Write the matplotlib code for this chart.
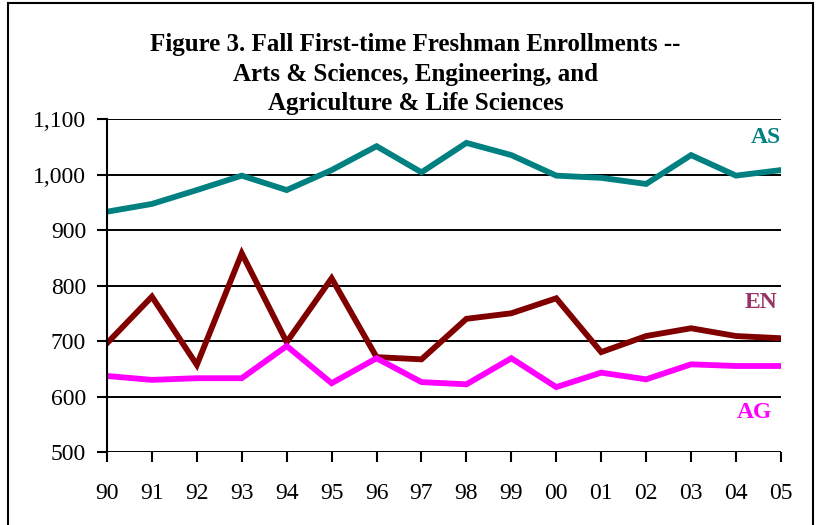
import numpy as np
import matplotlib
matplotlib.use('Agg')
import matplotlib.pyplot as plt
from matplotlib.patches import Rectangle

years = ['90', '91', '92', '93', '94', '95', '96', '97',
         '98', '99', '00', '01', '02', '03', '04', '05']
as_vals = [933, 947, 972, 998, 972, 1008, 1051, 1004,
           1057, 1035, 998, 994, 983, 1035, 998, 1008]
en_vals = [696, 780, 657, 858, 698, 813, 671, 667,
           740, 750, 777, 680, 709, 723, 709, 705]
ag_vals = [637, 630, 633, 633, 691, 624, 669, 626,
           622, 669, 617, 643, 631, 658, 655, 655]

plt.rcParams['font.family'] = ['Liberation Serif', 'DejaVu Serif']

fig = plt.figure(figsize=(8.16, 5.25), dpi=100)
ax = fig.add_axes([0.1311, 0.139, 0.957 - 0.1311, 0.7733 - 0.139])

x = np.arange(len(years))
ax.plot(x, as_vals, color='#008080', lw=4.2, solid_joinstyle='miter')
ax.plot(x, en_vals, color='#800000', lw=4.2, solid_joinstyle='miter')
ax.plot(x, ag_vals, color='#FF00FF', lw=4.2, solid_joinstyle='miter')

ax.set_xlim(0, len(years) - 1)
ax.set_ylim(500, 1100)
ax.set_yticks(range(500, 1101, 100))
ax.set_yticklabels(['{:,}'.format(v) for v in range(500, 1101, 100)])
ax.set_xticks(x)
ax.set_xticklabels(years)
ax.yaxis.grid(True, color='black', lw=1.4)
ax.set_axisbelow(True)
for s in ['top', 'right', 'bottom']:
    ax.spines[s].set_visible(False)
ax.spines['left'].set_linewidth(1.5)
ax.tick_params(axis='both', length=7, width=1.5, direction='out')
ax.tick_params(axis='y', labelsize=17, pad=8)
ax.tick_params(axis='x', labelsize=17, pad=15)

ax.text(15.0, 1066, 'AS', color='#008080', fontsize=17, fontweight='bold', ha='right', va='center')
ax.text(14.93, 770, 'EN', color='#993366', fontsize=17, fontweight='bold', ha='right', va='center')
ax.text(14.8, 572, 'AG', color='#FF00FF', fontsize=17, fontweight='bold', ha='right', va='center')

fig.text(0.509, 0.915, 'Figure 3. Fall First-time Freshman Enrollments --', ha='center', va='center',
         fontsize=18, fontweight='bold')
fig.text(0.509, 0.859, 'Arts & Sciences, Engineering, and', ha='center', va='center',
         fontsize=18, fontweight='bold')
fig.text(0.509, 0.803, 'Agriculture & Life Sciences', ha='center', va='center',
         fontsize=18, fontweight='bold')

fig.patches.append(Rectangle((0.0098, -0.02), 0.9865, 1.0143, transform=fig.transFigure,
                             fill=False, edgecolor='black', lw=1.5))

fig.savefig('out.png', dpi=100)
